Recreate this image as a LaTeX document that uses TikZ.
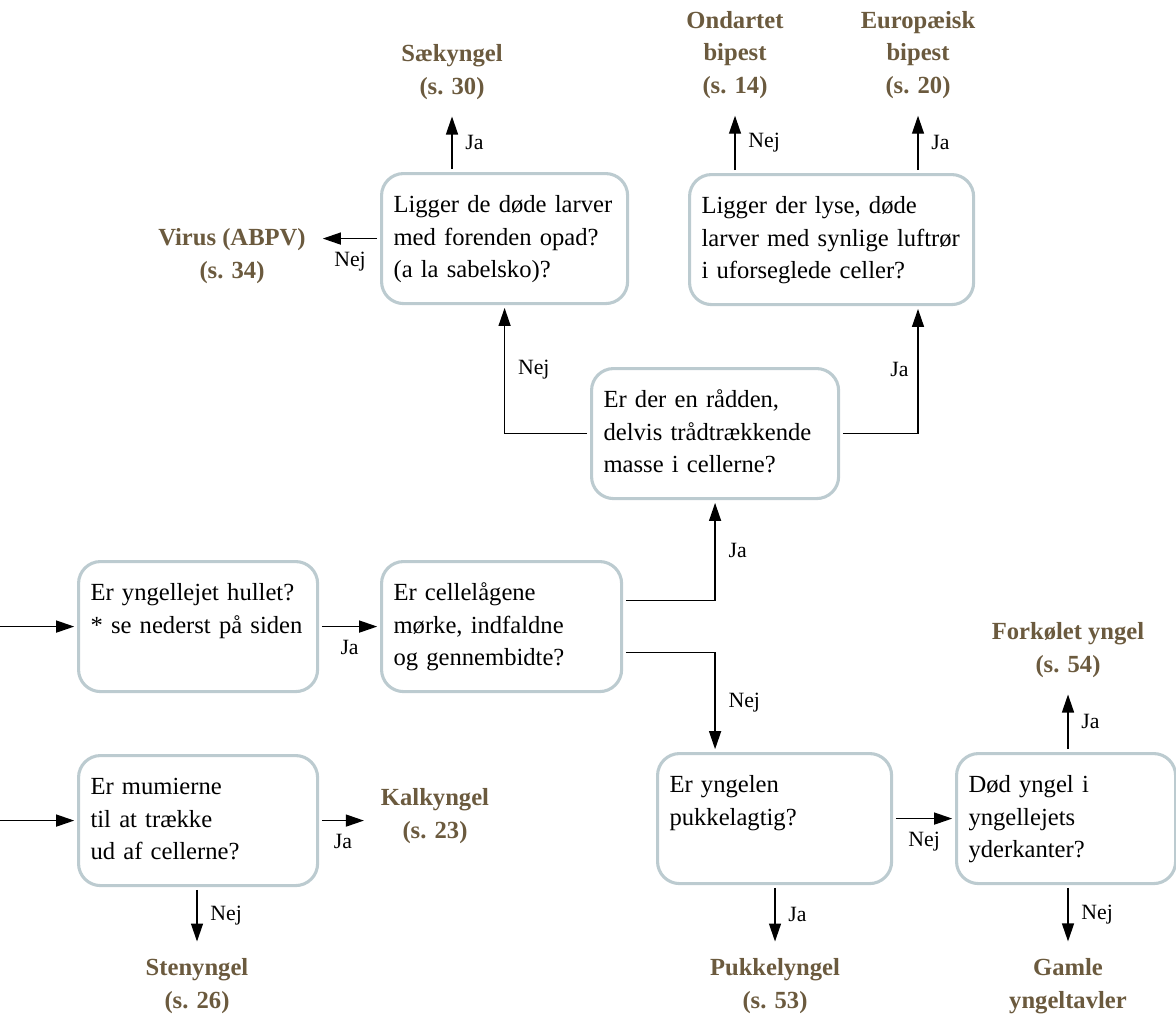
\documentclass[tikz,border=0pt]{standalone}
\usepackage{fontspec}
\setmainfont{Liberation Serif}
\usetikzlibrary{arrows.meta,positioning}

\definecolor{kant}{RGB}{188,203,208}
\definecolor{brun}{RGB}{107,90,62}

\tikzset{
  kasse/.style={draw=kant, line width=2.2pt, rounded corners=0.55cm,
    anchor=north west, align=left, text width=#1,
    inner xsep=0.3cm, inner ysep=0.4cm, text height=0.575cm, text depth=1.875cm},
  diagnose/.style={text=brun, font=\fontsize{17.5}{23.1}\selectfont\bfseries,
    align=center, inner sep=0.35cm},
  pil/.style={-{Triangle[length=0.45cm,width=0.3cm]}, line width=0.95pt,
    shorten <=2pt, shorten >=2pt},
  svar/.style={font=\fontsize{15.5}{18}\selectfont, inner sep=0.12cm}
}

\begin{document}
\begin{tikzpicture}[x=0.025cm, y=-0.025cm, font=\fontsize{17.5}{23.1}\selectfont]
\useasboundingbox (0,0) rectangle (1176,1019);

% Spørgsmål
\node[kasse=5.55cm] (b1) at (380,172) {Ligger de døde larver\\med forenden opad?\\(a la sabelsko)?};
\node[kasse=6.5cm] (b2) at (688,173) {Ligger der lyse, døde\\larver med synlige luftrør\\i uforseglede celler?};
\node[kasse=5.575cm] (b3) at (590,367) {Er der en rådden,\\delvis trådtrækkende\\masse i cellerne?};
\node[kasse=5.375cm] (b4) at (77,560) {Er yngellejet hullet?\\{*} se nederst på siden};
\node[kasse=5.4cm] (b5) at (380,560) {Er cellelågene\\mørke, indfaldne\\og gennembidte?};
\node[kasse=5.375cm] (b6) at (77,754) {Er mumierne\\til at trække\\ud af cellerne?};
\node[kasse=5.25cm] (b7) at (656,752) {Er yngelen\\pukkelagtig?};
\node[kasse=4.875cm] (b8) at (955,752) {Død yngel i\\yngellejets\\yderkanter?};

% Diagnoser
\node[diagnose] (saek) at (452,72) {Sækyngel\\(s. 30)};
\node[diagnose] (ond) at (735,55) {Ondartet\\bipest\\(s. 14)};
\node[diagnose] (europ) at (918,55) {Europæisk\\bipest\\(s. 20)};
\node[diagnose] (virus) at (232,256) {Virus (ABPV)\\(s. 34)};
\node[diagnose] (kalk) at (435,816) {Kalkyngel\\(s. 23)};
\node[diagnose] (sten) at (197,986) {Stenyngel\\(s. 26)};
\node[diagnose] (pukkel) at (775,986) {Pukkelyngel\\(s. 53)};
\node[diagnose] (gamle) at (1068,986) {Gamle\\yngeltavler};
\node[diagnose] (forkoel) at (1068,650) {Forkølet yngel\\(s. 54)};

% Indgange
\coordinate (inn1) at (0,0 |- b4.west);
\coordinate (inn2) at (0,0 |- b6.west);
\draw[pil, shorten <=0pt] (inn1) -- (b4.west);
\draw[pil, shorten <=0pt] (inn2) -- (b6.west);

% Pile med svar
\draw[pil] (b4.east) -- (b5.west) node[svar, midway, below=0.2cm] {Ja};
\draw[pil] ([yshift=0.65cm]b5.east) -| (b3.south) node[svar, pos=0.75, right=0.2cm] {Ja};
\draw[pil] ([yshift=-0.65cm]b5.east) -| (b7.north -| b3.south) node[svar, pos=0.75, right=0.2cm] {Nej};
\draw[pil] (b3.west) -| (b1.south) node[svar, pos=0.75, right=0.2cm] {Nej};
\draw[pil] (b3.east) -| (b2.south -| europ) node[svar, pos=0.75, left=0.1cm] {Ja};
\draw[pil] (b1.north -| saek) -- (saek.south) node[svar, midway, right=0.2cm] {Ja};
\draw[pil] (b1.west) -- (b1.west -| virus.east) node[svar, midway, below=0.2cm] {Nej};
\draw[pil] (b2.north -| ond) -- (ond.south) node[svar, midway, right=0.2cm] {Nej};
\draw[pil] (b2.north -| europ) -- (europ.south) node[svar, midway, right=0.2cm] {Ja};
\draw[pil] (b6.east) -- (b6.east -| kalk.west) node[svar, midway, below=0.2cm] {Ja};
\draw[pil] (b6.south -| sten) -- (sten.north) node[svar, midway, right=0.2cm] {Nej};
\draw[pil] (b7.east) -- (b8.west) node[svar, midway, below=0.2cm] {Nej};
\draw[pil] (b7.south -| pukkel) -- (pukkel.north) node[svar, midway, right=0.2cm] {Ja};
\draw[pil] (b8.north -| forkoel) -- (forkoel.south) node[svar, midway, right=0.2cm] {Ja};
\draw[pil] (b8.south -| gamle) -- (gamle.north) node[svar, midway, right=0.2cm] {Nej};

\end{tikzpicture}
\end{document}
